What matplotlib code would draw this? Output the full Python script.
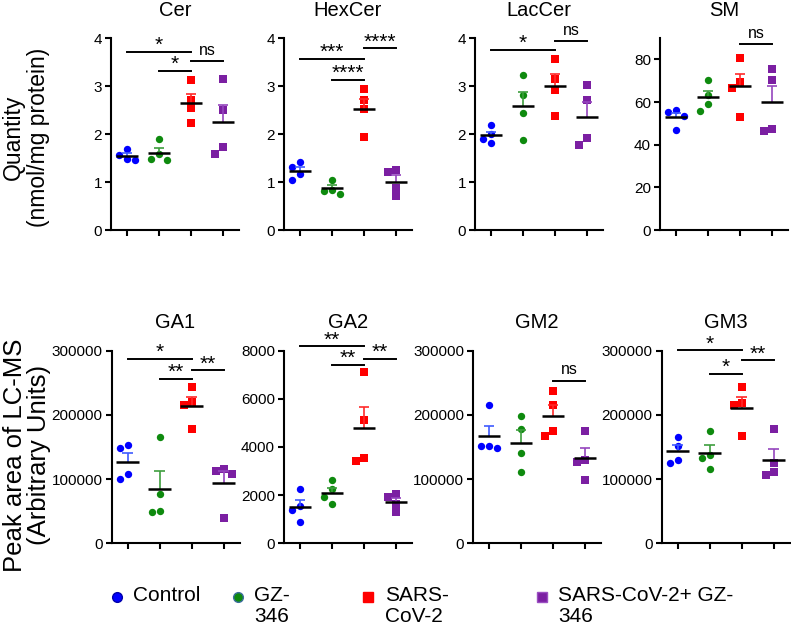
import numpy as np
import matplotlib
matplotlib.use('Agg')
import matplotlib.pyplot as plt
from matplotlib.lines import Line2D

plt.rcParams['font.family'] = ['Liberation Sans', 'DejaVu Sans']

# ---------------- data ----------------
groups = ['Control', 'GZ-346', 'SARS-CoV-2', 'SARS-CoV-2+ GZ-346']
legend_labels = ['Control', 'GZ-\n346', 'SARS-\nCoV-2', 'SARS-CoV-2+ GZ-\n346']

cer_control = [1.45, 1.57, 1.68, 1.47]
cer_gz = [1.90, 1.45, 1.48, 1.58]
cer_sars = [3.12, 2.71, 2.54, 2.22]
cer_combo = [3.15, 2.51, 1.72, 1.58]

hexcer_control = [1.32, 1.41, 1.05, 1.16]
hexcer_gz = [1.05, 0.75, 0.82, 0.84]
hexcer_sars = [2.94, 2.70, 2.52, 1.94]
hexcer_combo = [1.20, 1.26, 0.88, 0.70]

laccer_control = [2.18, 1.81, 1.89, 2.00]
laccer_gz = [3.22, 2.81, 2.43, 1.87]
laccer_sars = [3.56, 3.15, 2.92, 2.38]
laccer_combo = [3.03, 2.71, 1.92, 1.77]

sm_control = [55.4, 56.1, 46.9, 53.3]
sm_gz = [70.4, 63.3, 58.9, 55.9]
sm_sars = [80.5, 69.5, 66.7, 52.8]
sm_combo = [75.4, 70.3, 46.4, 47.4]

ga1_control = [148400, 152600, 100200, 107400]
ga1_gz = [165600, 76800, 48300, 49800]
ga1_sars = [242900, 219600, 215400, 177500]
ga1_combo = [116300, 108000, 113100, 39400]

ga2_control = [2240, 1560, 1370, 870]
ga2_gz = [2620, 2240, 1910, 1620]
ga2_sars = [7110, 5110, 3540, 3410]
ga2_combo = [2060, 1940, 1630, 1290]

gm2_control = [215400, 148400, 152100, 152100]
gm2_gz = [198800, 177500, 140100, 111600]
gm2_sars = [237700, 215900, 174400, 167100]
gm2_combo = [175400, 129000, 127000, 98600]

gm3_control = [166100, 151600, 130300, 124600]
gm3_gz = [175400, 137000, 133400, 116300]
gm3_sars = [243900, 218000, 215900, 167600]
gm3_combo = [177500, 125100, 110600, 106900]

titles = ['Cer', 'HexCer', 'LacCer', 'SM', 'GA1', 'GA2', 'GM2', 'GM3']
panel_values = [
    [cer_control, cer_gz, cer_sars, cer_combo],
    [hexcer_control, hexcer_gz, hexcer_sars, hexcer_combo],
    [laccer_control, laccer_gz, laccer_sars, laccer_combo],
    [sm_control, sm_gz, sm_sars, sm_combo],
    [ga1_control, ga1_gz, ga1_sars, ga1_combo],
    [ga2_control, ga2_gz, ga2_sars, ga2_combo],
    [gm2_control, gm2_gz, gm2_sars, gm2_combo],
    [gm3_control, gm3_gz, gm3_sars, gm3_combo],
]
y_max = [4, 4, 4, 90, 300000, 8000, 300000, 300000]
y_ticks = [
    [0, 1, 2, 3, 4], [0, 1, 2, 3, 4], [0, 1, 2, 3, 4], [0, 20, 40, 60, 80],
    [0, 100000, 200000, 300000], [0, 2000, 4000, 6000, 8000],
    [0, 100000, 200000, 300000], [0, 100000, 200000, 300000],
]
# significance brackets: (group a, group b, height, label)
brackets = [
    [(0, 2, 3.71, '*'), (1, 2, 3.32, '*'), (2, 3, 3.52, 'ns')],
    [(0, 2, 3.57, '***'), (1, 2, 3.13, '****'), (2, 3, 3.79, '****')],
    [(0, 2, 3.76, '*'), (2, 3, 3.93, 'ns')],
    [(2, 3, 87.3, 'ns')],
    [(0, 2, 287500, '*'), (1, 2, 256400, '**'), (2, 3, 269900, '**')],
    [(0, 2, 8190, '**'), (1, 2, 7420, '**'), (2, 3, 7670, '**')],
    [(2, 3, 253300, 'ns')],
    [(0, 2, 301000, '*'), (1, 2, 264200, '*'), (2, 3, 284900, '**')],
]

# ---------------- style ----------------
colors = ['#0000FF', '#0E8A0E', '#FF0000', '#7B1FA2']
err_colors = ['#3F5BFF', '#3E9E3E', '#FF2A2A', '#9545BE']
markers = ['o', 'o', 's', 's']
W, H = 791, 630
fig = plt.figure(figsize=(W / 100, H / 100), dpi=100)

lefts_top = [111, 284, 475, 660]
lefts_bot = [111.5, 284, 473, 661.5]
ax_w = 128
top_row = (38, 230)
bot_row = (350.7, 543.3)


def beeswarm(vals, ppu_y, ppu_x=32.0, step=0.25, thr=8.0):
    order = np.argsort(vals)[::-1]
    placed = []
    offs = np.zeros(len(vals))
    cands = [0, -step, step, -2 * step, 2 * step]
    for k in order:
        for c in cands:
            ok = True
            for (pv, pc) in placed:
                dy = (vals[k] - pv) * ppu_y
                dx = (c - pc) * ppu_x
                if np.hypot(dx, dy) < thr:
                    ok = False
                    break
            if ok:
                offs[k] = c
                placed.append((vals[k], c))
                break
    return offs


for p in range(8):
    row = 0 if p < 4 else 1
    col = p % 4
    ytop, ybot = top_row if row == 0 else bot_row
    left = (lefts_top if row == 0 else lefts_bot)[col]
    ax = fig.add_axes([left / W, 1 - ybot / H, ax_w / W, (ybot - ytop) / H])
    ymax = y_max[p]
    ax.set_xlim(-0.5, 3.5)
    ax.set_ylim(0, ymax)
    ppu_y = (ybot - ytop) / ymax
    for g in range(4):
        vals = np.array(panel_values[p][g], dtype=float)
        offs = beeswarm(vals, ppu_y)
        ax.plot(g + offs, vals, linestyle='none', marker=markers[g],
                color=colors[g], markersize=5.3, markeredgewidth=0, zorder=2,
                clip_on=False)
        m = vals.mean()
        sem = vals.std(ddof=1) / np.sqrt(len(vals))
        ax.vlines(g, m, m + sem, color=err_colors[g], lw=1.2, zorder=3)
        ax.hlines(m + sem, g - 0.16, g + 0.16, color=err_colors[g], lw=1.2, zorder=3)
        ax.hlines(m, g - 0.35, g + 0.35, color='black', lw=1.8, zorder=4)
    for (a, b, h, lab) in brackets[p]:
        ax.plot([a, b], [h, h], color='black', lw=1.4, clip_on=False, zorder=5)
        if lab == 'ns':
            ax.annotate(lab, xy=((a + b) / 2, h), xytext=(0, 4.5),
                        textcoords='offset points', ha='center', va='baseline',
                        fontsize=11.5, annotation_clip=False)
        else:
            ax.annotate(lab, xy=((a + b) / 2, h), xytext=(0, 0.5),
                        textcoords='offset points', ha='center', va='baseline',
                        fontsize=15, annotation_clip=False)
    ax.set_xticks([0, 1, 2, 3])
    ax.set_xticklabels([])
    ax.set_yticks(y_ticks[p])
    ax.set_yticklabels([str(t) for t in y_ticks[p]], fontsize=11)
    for s in ['top', 'right']:
        ax.spines[s].set_visible(False)
    for s in ['left', 'bottom']:
        ax.spines[s].set_linewidth(1.5)
    ax.tick_params(axis='both', direction='out', length=4.5, width=1.5, pad=2)
    ax.set_title(titles[p], fontsize=14.5, pad=16)

fig.text(26 / W, 1 - 137 / H, 'Quantity\n(nmol/mg protein)', rotation=90,
         ha='center', va='center', fontsize=16.5, linespacing=1.1)
fig.text(27 / W, 1 - 455 / H, 'Peak area of LC-MS\n(Arbitrary Units)', rotation=90,
         ha='center', va='center', fontsize=18.5, linespacing=1.05)

# legend (drawn manually to mimic the wrapped labels)
leg_marker_x = [117, 238, 368, 542]
leg_text_x = [133, 254, 385, 558]
leg_edges = ['#0000AA', '#3A6E9A', '#FF0000', '#9B4FC2']
for g in range(4):
    fig.add_artist(Line2D([leg_marker_x[g] / W], [1 - 597 / H], marker=markers[g],
                          color=colors[g], markersize=7, markeredgecolor=leg_edges[g],
                          markeredgewidth=1.0, linestyle='none'))
    fig.text(leg_text_x[g] / W, 1 - 586 / H, legend_labels[g], ha='left', va='top',
             fontsize=15, linespacing=1.1)

fig.savefig('out.png', dpi=100)
